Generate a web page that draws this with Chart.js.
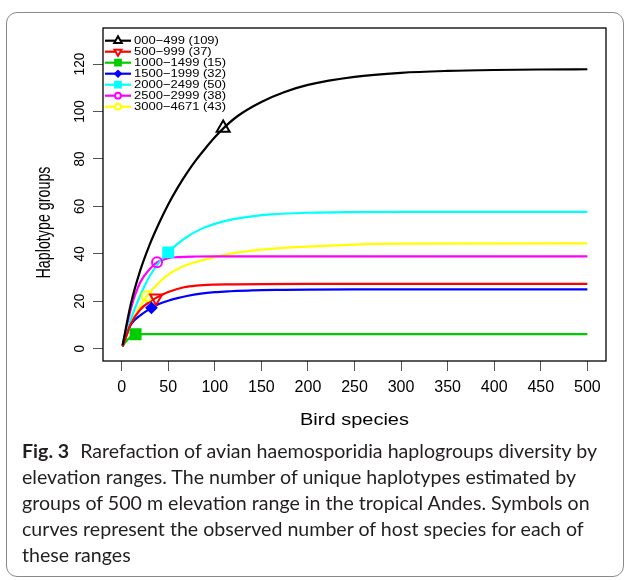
<!DOCTYPE html>
<html><head><meta charset="utf-8">
<script src="https://cdn.jsdelivr.net/npm/chart.js@4.4.1/dist/chart.umd.min.js"></script>
<style>
html,body{margin:0;padding:0;background:#fff;}
#page{position:relative;width:629px;height:580px;overflow:hidden;background:#fff;}
#frame{position:absolute;left:6px;top:12px;width:618px;height:565px;border:1.5px solid #8a8a8a;border-radius:11px;box-sizing:border-box;}
#chartBox{position:absolute;left:0;top:0;width:629px;height:440px;}
#caption{position:absolute;left:22px;top:438px;font-family:Lato,'Open Sans',sans-serif;font-size:19.5px;line-height:26px;color:#231f20;white-space:nowrap;transform-origin:0 0;}
#caption b{font-weight:700;margin-right:6px;}
</style></head>
<body>
<div id="page">
  <div id="frame"></div>
  <div id="chartBox"><canvas id="c"></canvas></div>
  <div id="caption"><span id="cap1"><b>Fig. 3</b> Rarefaction of avian haemosporidia haplogroups diversity by</span><br>elevation ranges. The number of unique haplotypes estimated by<br>groups of 500 m elevation range in the tropical Andes. Symbols on<br>curves represent the observed number of host species for each of<br>these ranges</div>
</div>
<script>
// ---- data ----
const seriesNames = ['000\u2212499 (109)','500\u2212999 (37)','1000\u22121499 (15)','1500\u22121999 (32)','2000\u22122499 (50)','2500\u22122999 (38)','3000\u22124671 (43)'];
const xTicks = [0,50,100,150,200,250,300,350,400,450,500];
const yTicks = [0,20,40,60,80,100,120];

const x000 = [1,10,20,30,40,50,60,70,80,90,100,110,125,150,175,200,250,300,350,400,450,500];
const y000 = [1.5,19,33,43.8,52.8,60.8,67.8,74,79.6,84.5,89.1,93.2,98.2,104,108.2,111.2,114.6,116.3,117.1,117.5,117.7,117.8];

const x500 = [1,10,20,30,37,50,67,80,100,117,150,200,500];
const y500 = [1,10.5,16.5,19.7,21.4,23.9,25.9,26.6,27,27.1,27.25,27.3,27.3];

const x1000 = [1,5,10,15,25,500];
const y1000 = [1,3.2,5,6,6.1,6.1];

const x1500 = [1,10,20,32,40,50,60,70,85,100,117,140,175,200,250,500];
const y1500 = [1,10.2,14,17.2,18.8,20.2,21.3,22.2,23.2,23.8,24.2,24.6,24.8,24.9,25,25];

const x2000 = [1,10,20,30,40,50,60,70,85,100,120,140,160,200,250,300,500];
const y2000 = [1,12.5,22.5,30.5,36.3,40.6,44.2,47.1,50.4,52.6,54.6,55.8,56.6,57.3,57.6,57.7,57.7];

const x2500 = [1,10,20,30,38,50,60,80,100,500];
const y2500 = [1,17,28,33.5,36.4,38.2,38.6,38.85,38.9,38.9];

const x3000 = [1,10,20,27,40,50,60,70,85,100,117,140,160,192,250,300,500];
const y3000 = [1,10.5,18,22.1,27.8,31.2,33.6,35.4,37.1,38.6,40.1,41.3,42.1,42.9,43.9,44.3,44.4];

const markerX = [109,37,15,32,50,38,27];
const markerY = [93,21.4,6.1,17.2,40.6,36.4,22.1];

// ---- styles ----
const seriesX = [x000,x500,x1000,x1500,x2000,x2500,x3000];
const seriesY = [y000,y500,y1000,y1500,y2000,y2500,y3000];
const colors = ['#000000','#FF0000','#00CD00','#0000FF','#00FFFF','#FF00FF','#FFFF00'];
const mStyle = [
  {s:'triangle',rot:0,r:7.5,filled:false},
  {s:'triangle',rot:180,r:7,filled:false},
  {s:'rect',rot:0,r:7,filled:true},
  {s:'rectRot',rot:0,r:5,filled:true},
  {s:'rect',rot:0,r:7,filled:true},
  {s:'circle',rot:0,r:5,filled:false},
  {s:'circle',rot:0,r:5,filled:false}
];

const datasets = [];
seriesX.forEach((xs,i)=>{
  datasets.push({
    label: seriesNames[i],
    data: xs.map((x,j)=>({x:x,y:seriesY[i][j]})),
    borderColor: colors[i], borderWidth: 2.2, pointRadius: 0,
    cubicInterpolationMode:'monotone', fill:false, order: 10
  });
});
seriesX.forEach((xs,i)=>{
  datasets.push({
    label: seriesNames[i]+' obs',
    data: [{x:markerX[i],y:markerY[i]}],
    showLine:false,
    pointStyle: mStyle[i].s, rotation: mStyle[i].rot, pointRadius: mStyle[i].r,
    pointBorderWidth: 2, pointBorderColor: colors[i],
    pointBackgroundColor: mStyle[i].filled ? colors[i] : 'rgba(0,0,0,0)',
    order: 1
  });
});

const decor = {
  id:'decor',
  afterDraw(chart){
    const ctx = chart.ctx, a = chart.chartArea;
    const ys = chart.scales.y;
    ctx.save();
    // box
    ctx.strokeStyle = '#000'; ctx.lineWidth = 1.3;
    ctx.strokeRect(a.left, a.top, a.right - a.left, a.bottom - a.top);
    // y tick labels (rotated)
    ctx.fillStyle = '#000';
    ctx.font = '15.5px "Liberation Sans", Arial, sans-serif';
    yTicks.forEach(v=>{
      const py = ys.getPixelForValue(v);
      ctx.save(); ctx.translate(84, py); ctx.rotate(-Math.PI/2); ctx.scale(0.88,1);
      ctx.textAlign='center'; ctx.textBaseline='alphabetic';
      ctx.fillText(String(v),0,0); ctx.restore();
    });
    // y title
    ctx.save(); ctx.translate(50, 222.5); ctx.rotate(-Math.PI/2); ctx.scale(0.68,1);
    ctx.font = '21px "Liberation Sans", Arial, sans-serif';
    ctx.textAlign='center'; ctx.textBaseline='alphabetic';
    ctx.fillText('Haplotype groups',0,0); ctx.restore();
    // x title
    ctx.save(); ctx.translate((a.left + a.right)/2, 425); ctx.scale(1,0.82);
    ctx.font = '20px "Liberation Sans", Arial, sans-serif';
    ctx.textAlign='center'; ctx.textBaseline='alphabetic';
    ctx.fillText('Bird species',0,0); ctx.restore();
    // legend
    const lx0 = a.left + 2, lx1 = a.left + 28, ltx = a.left + 31, ly0 = a.top + 12.7, ldy = 11;
    seriesNames.forEach((name,i)=>{
      const y = ly0 + i*ldy;
      ctx.strokeStyle = colors[i]; ctx.lineWidth = 2.2;
      ctx.beginPath(); ctx.moveTo(lx0,y); ctx.lineTo(lx1,y); ctx.stroke();
      ctx.fillStyle = mStyle[i].filled ? colors[i] : '#fff';
      ctx.lineWidth = 2;
      Chart.helpers.drawPoint(ctx,{pointStyle:mStyle[i].s,rotation:mStyle[i].rot,radius:mStyle[i].r*0.58,borderWidth:2},(lx0+lx1)/2,y);
      ctx.save(); ctx.translate(ltx,y); ctx.scale(1,0.88);
      ctx.fillStyle='#000'; ctx.font='13px "Liberation Sans", Arial, sans-serif';
      ctx.textAlign='left'; ctx.textBaseline='middle';
      ctx.fillText(name,0,0); ctx.restore();
    });
    ctx.restore();
  }
};

const gridOpts = {display:true, drawOnChartArea:false, drawTicks:true, tickLength:10, color:'#555', tickColor:'#555', lineWidth:1};

new Chart(document.getElementById('c'),{
  type:'line',
  data:{datasets:datasets},
  options:{
    responsive:true, maintainAspectRatio:false, animation:false,
    layout:{padding:{left:0,top:28,right:23,bottom:0}},
    plugins:{legend:{display:false},tooltip:{enabled:false},title:{display:false}},
    scales:{
      x:{type:'linear',min:-20,max:520,
        afterBuildTicks:s=>{s.ticks = xTicks.map(v=>({value:v}));},
        afterFit:s=>{s.height = 79;},
        grid:gridOpts, border:{display:false},
        ticks:{font:{family:'"Liberation Sans", Arial, sans-serif',size:16},color:'#000',padding:7,maxRotation:0,minRotation:0,autoSkip:false,callback:v=>String(v)}
      },
      y:{type:'linear',min:-5.2,max:135.2,
        afterBuildTicks:s=>{s.ticks = yTicks.map(v=>({value:v}));},
        afterFit:s=>{s.width = 103;},
        grid:gridOpts, border:{display:false},
        ticks:{display:false}
      }
    }
  },
  plugins:[decor]
});

function fitCaption(){
  const cap = document.getElementById('caption');
  cap.style.transform = 'none';
  const w = document.getElementById('cap1').getBoundingClientRect().width;
  if (w > 0) cap.style.transform = 'scaleX(' + (575 / w) + ')';
}
fitCaption();
if (document.fonts && document.fonts.ready) document.fonts.ready.then(fitCaption);
</script>
</body></html>
